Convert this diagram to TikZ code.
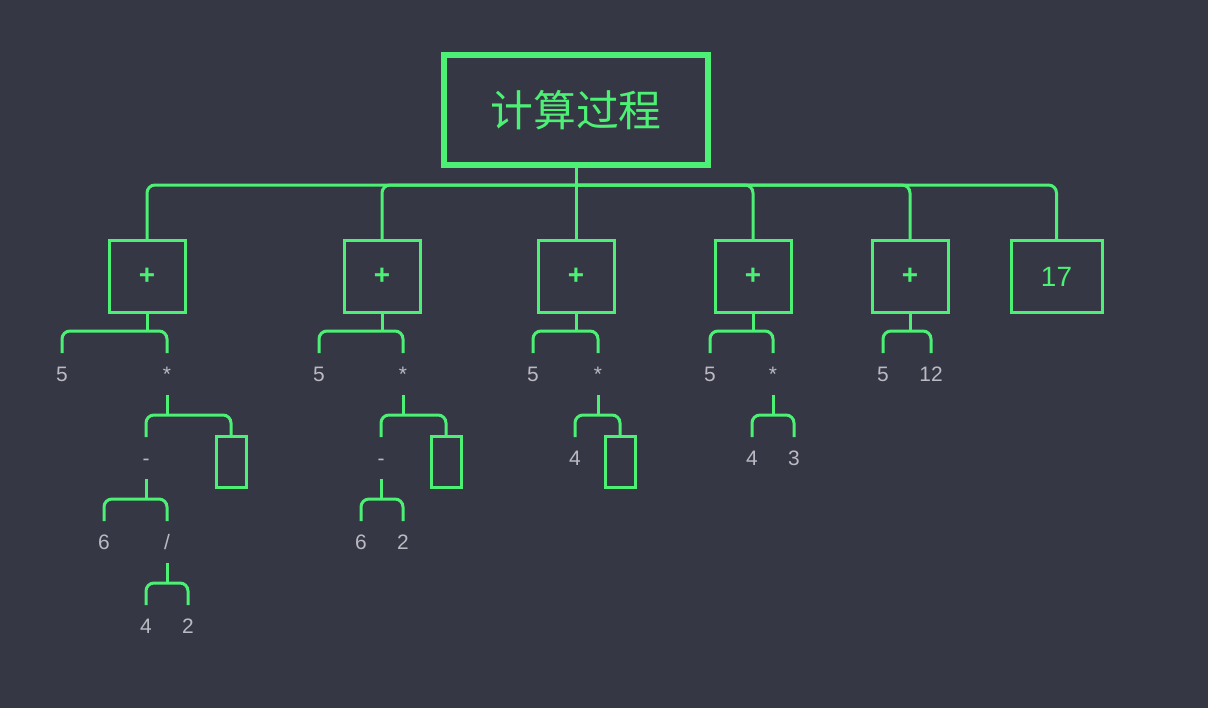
\documentclass[tikz,border=0pt]{standalone}
\usepackage{fontspec}
\setmainfont{Liberation Sans}
\newfontfamily\cjk{Noto Sans CJK SC}
\usepackage{xcolor}
\usetikzlibrary{positioning}
\definecolor{bgdark}{HTML}{363744}
\definecolor{lime}{HTML}{4CF074}
\definecolor{lbl}{HTML}{BABAC3}

\begin{document}
\begin{tikzpicture}[
  x=1bp, y=-1bp,
  link/.style={draw=lime, line width=3bp, rounded corners=8bp},
  op/.style={draw=lime, line width=3bp, minimum width=76bp, minimum height=71bp, inner sep=0pt, outer sep=0pt, text=lime, font=\fontsize{28}{28}\selectfont},
  hole/.style={draw=lime, line width=3bp, minimum width=30bp, minimum height=51bp, inner sep=0pt, outer sep=0pt},
  num/.style={text=lbl, font=\fontsize{21}{21}\selectfont, text height=15bp, text depth=0bp, minimum height=42bp, inner sep=0pt, outer sep=0pt},
  head/.style={draw=lime, line width=5.5bp, minimum width=264bp, minimum height=110bp, outer sep=0pt, text=lime, font=\cjk\fontsize{43}{43}\selectfont}
]
\useasboundingbox[fill=bgdark] (0,0) rectangle (1208,708);

% Title and first level
\node[head] (title) at (576,110) {计算过程};

\node[op] (b1) at (147,276.5) {\textbf{+}};
\node[op] (b2) at (382,276.5) {\textbf{+}};
\node[op] (b3) at (576,276.5) {\textbf{+}};
\node[op] (b4) at (753,276.5) {\textbf{+}};
\node[op] (b5) at (910,276.5) {\textbf{+}};
\node[op, minimum width=91bp] (res) at (1056.5,276.5) {17};

\draw[link] (title.south) -- (b3.north);
\draw[link] (title.south) -- ++(0,20) coordinate (bus);
\foreach \b in {b1,b2,b4,b5,res}
  \draw[link] (bus) -| (\b.north);

% Step 1
\node[num] (n1a) at (62,374) {5};
\node[num] (n1b) at (167,374) {*};
\node[num] (m1a) at (146,458) {-};
\node[hole] (h1) at (231,461.5) {};
\node[num] (k1a) at (104,542) {6};
\node[num] (k1b) at (167,542) {/};
\node[num] (q1a) at (146,626) {4};
\node[num] (q1b) at (188,626) {2};

\draw[link] (b1.south) -- ++(0,19) coordinate (j1);
\foreach \c in {n1a,n1b} \draw[link] (j1) -| (\c.north);
\draw[link] (n1b.south) -- ++(0,20) coordinate (j1b);
\foreach \c in {m1a,h1} \draw[link] (j1b) -| (\c.north);
\draw[link] (m1a.south) -- ++(0,20) coordinate (j1c);
\foreach \c in {k1a,k1b} \draw[link] (j1c) -| (\c.north);
\draw[link] (k1b.south) -- ++(0,20) coordinate (j1d);
\foreach \c in {q1a,q1b} \draw[link] (j1d) -| (\c.north);

% Step 2
\node[num] (n2a) at (319,374) {5};
\node[num] (n2b) at (403,374) {*};
\node[num] (m2a) at (381,458) {-};
\node[hole] (h2) at (446,461.5) {};
\node[num] (k2a) at (361,542) {6};
\node[num] (k2b) at (403,542) {2};

\draw[link] (b2.south) -- ++(0,19) coordinate (j2);
\foreach \c in {n2a,n2b} \draw[link] (j2) -| (\c.north);
\draw[link] (n2b.south) -- ++(0,20) coordinate (j2b);
\foreach \c in {m2a,h2} \draw[link] (j2b) -| (\c.north);
\draw[link] (m2a.south) -- ++(0,20) coordinate (j2c);
\foreach \c in {k2a,k2b} \draw[link] (j2c) -| (\c.north);

% Step 3
\node[num] (n3a) at (533,374) {5};
\node[num] (n3b) at (598,374) {*};
\node[num] (m3a) at (575,458) {4};
\node[hole] (h3) at (620,461.5) {};

\draw[link] (b3.south) -- ++(0,19) coordinate (j3);
\foreach \c in {n3a,n3b} \draw[link] (j3) -| (\c.north);
\draw[link] (n3b.south) -- ++(0,20) coordinate (j3b);
\foreach \c in {m3a,h3} \draw[link] (j3b) -| (\c.north);

% Step 4
\node[num] (n4a) at (710,374) {5};
\node[num] (n4b) at (773,374) {*};
\node[num] (m4a) at (752,458) {4};
\node[num] (m4b) at (794,458) {3};

\draw[link] (b4.south) -- ++(0,19) coordinate (j4);
\foreach \c in {n4a,n4b} \draw[link] (j4) -| (\c.north);
\draw[link] (n4b.south) -- ++(0,20) coordinate (j4b);
\foreach \c in {m4a,m4b} \draw[link] (j4b) -| (\c.north);

% Step 5
\node[num] (n5a) at (883,374) {5};
\node[num] (n5b) at (931,374) {12};

\draw[link] (b5.south) -- ++(0,19) coordinate (j5);
\foreach \c in {n5a,n5b} \draw[link] (j5) -| (\c.north);

\end{tikzpicture}
\end{document}
